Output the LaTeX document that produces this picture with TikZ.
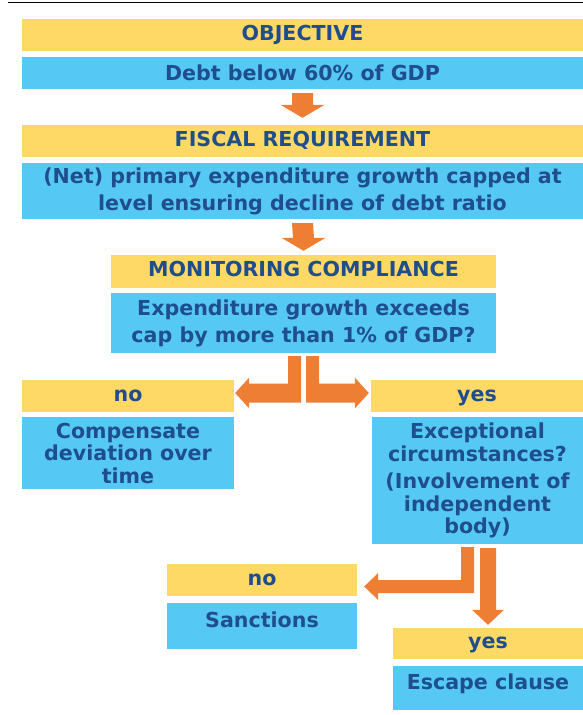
\documentclass[tikz,border=0pt]{standalone}
\usepackage{fontspec}
\setmainfont{DejaVu Sans}
\usetikzlibrary{calc}

\definecolor{boxyellow}{HTML}{FFD966}
\definecolor{boxblue}{HTML}{56C8F4}
\definecolor{textblue}{HTML}{1F4E8C}
\definecolor{arroworange}{HTML}{EE7E33}

\begin{document}
\begin{tikzpicture}[x=1pt, y=-1pt,
    hdbox/.style={fill=boxyellow, text=textblue, font=\bfseries\fontsize{20.6}{22.5}\selectfont, inner sep=0pt, minimum height=32pt, text height=14.5pt, text depth=4.5pt, align=center},
    bdbox/.style={fill=boxblue, text=textblue, font=\bfseries\fontsize{20.6}{22.5}\selectfont, inner sep=0pt, align=center},
    flow/.style={fill=arroworange}]

    \useasboundingbox (0,0) rectangle (583,715);
    \draw[line width=1.2pt] (8,2.5) -- (583,2.5);

    % --- 1. Objective ---
    \node[hdbox, minimum width=561pt] (obj) at (302.5,35) {OBJECTIVE};
    \node[bdbox, minimum width=561pt, minimum height=32pt] (debt) at (302.5,73) {Debt below 60\% of GDP};

    % --- 2. Fiscal requirement ---
    \node[hdbox, minimum width=561pt] (fiscal) at (302.5,141) {FISCAL REQUIREMENT};
    \node[bdbox, minimum width=561pt, minimum height=56pt, font=\bfseries\fontsize{20.6}{27}\selectfont] (net) at (302.5,191)
        {(Net) primary expenditure growth capped at\\ level ensuring decline of debt ratio};

    % --- 3. Monitoring compliance ---
    \node[hdbox, minimum width=385pt, minimum height=33pt] (monitor) at (303.5,271.5) {MONITORING COMPLIANCE};
    \node[bdbox, minimum width=385pt, minimum height=60pt, font=\bfseries\fontsize{20.6}{27}\selectfont] (exp) at (303.5,323)
        {Expenditure growth exceeds\\ cap by more than 1\% of GDP?};

    % --- 4. First decision ---
    \node[hdbox, minimum width=212pt] (no1) at (128,396) {no};
    \node[bdbox, minimum width=212pt, minimum height=72pt] (comp) at (128,453) {Compensate\\ deviation over\\ time};
    \node[hdbox, minimum width=212pt] (yes1) at (477,396) {yes};
    \node[bdbox, minimum width=211pt, minimum height=127pt] (exc) at (477.5,480.5)
        {Exceptional\\ circumstances?\\[5pt] (Involvement of\\ independent\\ body)};

    % --- 5. Second decision ---
    \node[hdbox, minimum width=190pt] (no2) at (262,580) {no};
    \node[bdbox, minimum width=190pt, minimum height=46pt, text depth=13pt] (sanc) at (262,626) {Sanctions};
    \node[hdbox, minimum width=190pt, minimum height=31pt] (yes2) at (488,643.5) {yes};
    \node[bdbox, minimum width=190pt, minimum height=44pt, text depth=12pt] (esc) at (488,688) {Escape clause};

    % --- 6. Block arrows ---
    % straight down
    \foreach \a/\b/\g in {debt/fiscal/7, net/monitor/4}
        \fill[flow] ($(\a.south)+(-10.5,4)$) -- ($(\a.south)+(10.5,4)$)
            -- ($(\b.north)+(10.5,-\g-13)$) -- ($(\b.north)+(22,-\g-13)$)
            -- ($(\b.north)+(0,-\g)$)
            -- ($(\b.north)+(-22,-\g-13)$) -- ($(\b.north)+(-10.5,-\g-13)$) -- cycle;

    % split after the cap test
    \coordinate (sp1) at ($(exp.south)+(0,3)$);
    \coordinate (tipl) at ($(no1.east)+(1,-3)$);
    \coordinate (tipr) at ($(yes1.west)+(-2,-3)$);
    \coordinate (l1) at ($(sp1)+(-2.5,0)$);
    \coordinate (r1) at ($(sp1)+(2.5,0)$);
    \fill[flow] (l1) -- ($(sp1)+(-15.5,0)$) |- ($(tipl)+(14,-9.5)$) -- ($(tipl)+(14,-15.5)$)
        -- (tipl) -- ($(tipl)+(14,15.5)$) -- ($(tipl)+(14,9.5)$) -| (l1) -- cycle;
    \fill[flow] (r1) -- ($(sp1)+(15.5,0)$) |- ($(tipr)+(-14,-9.5)$) -- ($(tipr)+(-14,-15.5)$)
        -- (tipr) -- ($(tipr)+(-14,15.5)$) -- ($(tipr)+(-14,9.5)$) -| (r1) -- cycle;

    % split after exceptional circumstances
    \coordinate (dn2) at ($(exc.south -| yes2.north)+(0,4)$);
    \coordinate (tipn) at ($(no2.east)+(7,6.5)$);
    \coordinate (l2) at ($(dn2)+(-14,-1)$);
    \fill[flow] (l2) -- ($(dn2)+(-27,-1)$) |- ($(tipn)+(14,-6.5)$) -- ($(tipn)+(14,-13.5)$)
        -- (tipn) -- ($(tipn)+(14,13.5)$) -- ($(tipn)+(14,6.5)$) -| (l2) -- cycle;
    \fill[flow] ($(dn2)+(-8,0)$) -- ($(dn2)+(8,0)$) -- ($(yes2.north)+(8,-18)$) -- ($(yes2.north)+(16,-18)$)
        -- ($(yes2.north)+(0,-3)$) -- ($(yes2.north)+(-16,-18)$) -- ($(yes2.north)+(-8,-18)$) -- cycle;
\end{tikzpicture}
\end{document}
